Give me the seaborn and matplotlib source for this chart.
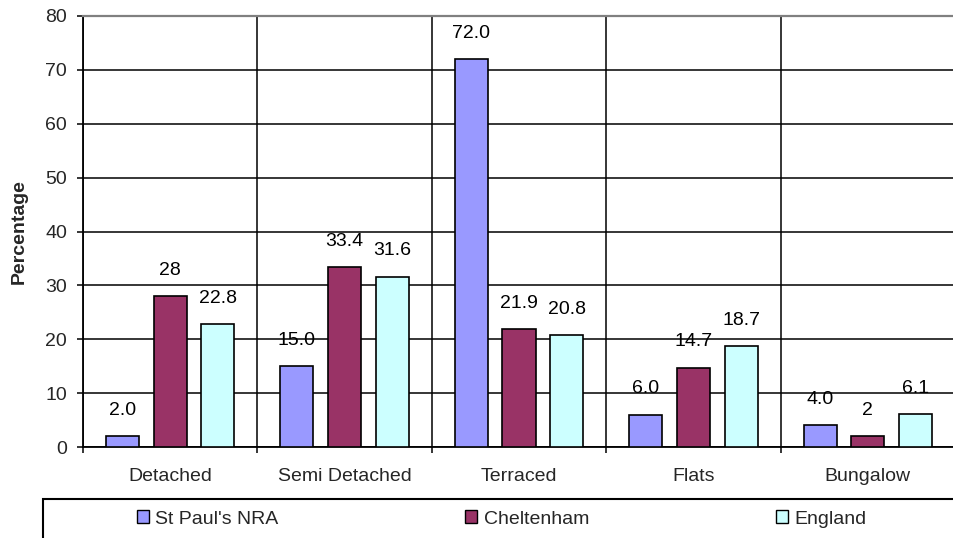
import matplotlib
matplotlib.use("Agg")
import matplotlib.pyplot as plt
from matplotlib.patches import Patch, Rectangle
from matplotlib.ticker import FixedLocator
import pandas as pd
import seaborn as sns

# Dwelling types and share of households (%) for each area
categories = ["Detached", "Semi Detached", "Terraced", "Flats", "Bungalow"]
series_names = ["St Paul's NRA", "Cheltenham", "England"]
st_pauls = [2.0, 15.0, 72.0, 6.0, 4.0]
cheltenham = [28, 33.4, 21.9, 14.7, 2]
england = [22.8, 31.6, 20.8, 18.7, 6.1]
label_formats = ["{:.1f}", "{:g}", "{:.1f}"]
y_ticks = [0, 10, 20, 30, 40, 50, 60, 70, 80]
colors = ["#9999FF", "#993366", "#CCFFFF"]

df = pd.DataFrame({
    "Type": categories * 3,
    "Area": [n for n in series_names for _ in categories],
    "Percentage": st_pauls + cheltenham + england,
})

FS = 14

sns.set_style("white")
plt.rcParams["font.family"] = ["Liberation Sans", "DejaVu Sans"]
plt.rcParams["font.size"] = FS

fig = plt.figure(figsize=(9.54, 5.38), dpi=100)
ax = fig.add_axes([83 / 954, 1 - 447 / 538, 872 / 954, 431 / 538])

sns.barplot(
    data=df, x="Type", y="Percentage", hue="Area",
    order=categories, hue_order=series_names,
    palette=dict(zip(series_names, colors)), saturation=1,
    width=0.82, gap=0.305, edgecolor="black", linewidth=1.2,
    legend=False, ax=ax, zorder=3,
)

# value labels above each bar
for cont, fmt in zip(ax.containers, label_formats):
    ax.bar_label(cont, fmt=fmt, padding=12.5, fontsize=FS, color="black")

ax.set_xlim(-0.5, 4.5)
ax.set_ylim(0, 80)
ax.set_yticks(y_ticks)
ax.set_xlabel("")
ax.set_ylabel("Percentage", fontsize=FS, fontweight="bold")
ax.yaxis.set_label_coords(-0.063, 0.5)

# horizontal gridlines and category separators
ax.set_axisbelow(True)
ax.yaxis.grid(True, color="black", linewidth=1.1)
ax.xaxis.set_minor_locator(FixedLocator([-0.5, 0.5, 1.5, 2.5, 3.5, 4.5]))
ax.xaxis.grid(True, which="minor", color="black", linewidth=1.1)
ax.xaxis.grid(False, which="major")
ax.tick_params(axis="x", which="major", length=0, pad=15, labelsize=FS)
ax.tick_params(axis="x", which="minor", direction="out", length=4.5,
               width=1.1, color="black", bottom=True)
ax.tick_params(axis="y", direction="out", length=4.5, width=1.1,
               color="black", pad=7, labelsize=FS, left=True)

for side in ["left", "bottom"]:
    ax.spines[side].set_color("black")
    ax.spines[side].set_linewidth(1.3)
ax.spines["top"].set_color("#808080")
ax.spines["top"].set_linewidth(1.6)
ax.spines["right"].set_visible(False)

# legend box along the bottom
fig.patches.append(Rectangle((43 / 954, -0.05), 1.0, 0.05 + 1 - 499 / 538,
                             transform=fig.transFigure, facecolor="none",
                             edgecolor="black", linewidth=1.5))
handles = [Patch(facecolor=c, edgecolor="black", linewidth=1.0) for c in colors]
fig.legend(handles, series_names, ncol=3, loc="center left",
           bbox_to_anchor=(137 / 954, 1 - 519 / 538), frameon=False,
           handlelength=0.6, handleheight=0.6, handletextpad=0.35,
           columnspacing=9.6, borderpad=0, borderaxespad=0, fontsize=FS)

fig.savefig("out.png", dpi=100)
